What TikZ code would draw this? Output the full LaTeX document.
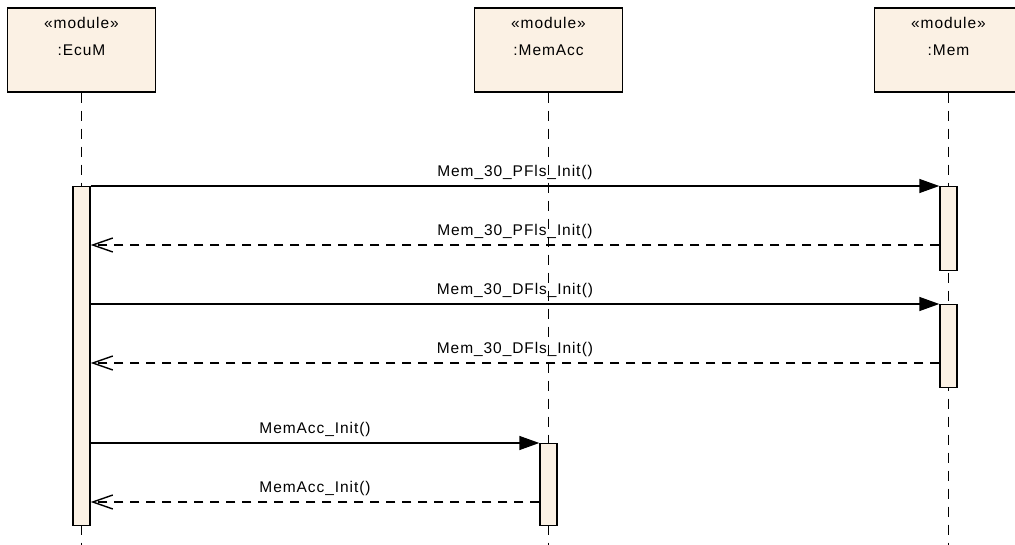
\documentclass[tikz,border=0pt]{standalone}
\usepackage{fontspec}
\setmainfont{Liberation Sans}[LetterSpace=6]
\usepackage{xcolor}
\usepackage{tikz}
\usetikzlibrary{arrows.meta,positioning}

\definecolor{modfill}{RGB}{251,241,228}

\tikzset{
  head/.style={draw=black, fill=modfill, line width=1.4pt, minimum width=148pt, minimum height=84pt, inner sep=0pt},
  headtxt/.style={align=center, inner sep=0pt, font=\fontsize{15.5}{27}\selectfont},
  act/.style={draw=black, fill=modfill, line width=1.4pt, minimum width=17pt, inner sep=0pt, anchor=north},
  life/.style={black, line width=1.4pt, dash pattern=on 10pt off 8pt},
  call/.style={black, line width=1.4pt, -{Triangle[length=20pt,width=14pt]}},
  reply/.style={black, line width=1.4pt, dash pattern=on 9pt off 7pt, -{Straight Barb[length=20pt,width=14pt,line width=1.4pt]}},
  msg/.style={above, inner sep=0pt, yshift=6pt, font=\fontsize{15.5}{18}\selectfont}
}

\begin{document}
\begin{tikzpicture}[x=1pt,y=-1pt]
	\useasboundingbox (0,0) rectangle (1015,545);
	% lifeline heads
	\node[head] (ecum) at (81.5,50) {};
	\node[head] (memacc) at (548.5,50) {};
	\node[head] (mem) at (948.5,50) {};
	\node[headtxt, below=10pt of ecum.north] (ecumT) {«module»\\:EcuM};
	\node[headtxt, below=10pt of memacc.north] (memaccT) {«module»\\:MemAcc};
	\node[headtxt, below=10pt of mem.north] (memT) {«module»\\:Mem};
	% lifelines
	\coordinate (ecumEnd) at (81.5,545);
	\coordinate (memaccEnd) at (548.5,545);
	\coordinate (memEnd) at (948.5,545);
	\draw[life] (ecum.south) -- (ecumEnd);
	\draw[life] (memacc.south) -- (memaccEnd);
	\draw[life] (mem.south) -- (memEnd);
	% activations
	\node[act, minimum height=339pt] (actE) at (81.5,186) {};
	\node[act, minimum height=84pt] (actP) at (948.5,186) {};
	\node[act, minimum height=83pt] (actD) at (948.5,304) {};
	\node[act, minimum height=82pt] (actA) at (548.5,443) {};
	% messages
	\draw[call] (actE.east |- actP.north) -- (actP.north west) node[msg, midway] {Mem\_30\_PFls\_Init()};
	\draw[reply] (actP.west |- 0,245) -- (actE.east |- 0,245) node[msg, midway] {Mem\_30\_PFls\_Init()};
	\draw[call] (actE.east |- actD.north) -- (actD.north west) node[msg, midway] {Mem\_30\_DFls\_Init()};
	\draw[reply] (actD.west |- 0,363) -- (actE.east |- 0,363) node[msg, midway] {Mem\_30\_DFls\_Init()};
	\draw[call] (actE.east |- actA.north) -- (actA.north west) node[msg, midway] {MemAcc\_Init()};
	\draw[reply] (actA.west |- 0,502) -- (actE.east |- 0,502) node[msg, midway] {MemAcc\_Init()};
\end{tikzpicture}
\end{document}
